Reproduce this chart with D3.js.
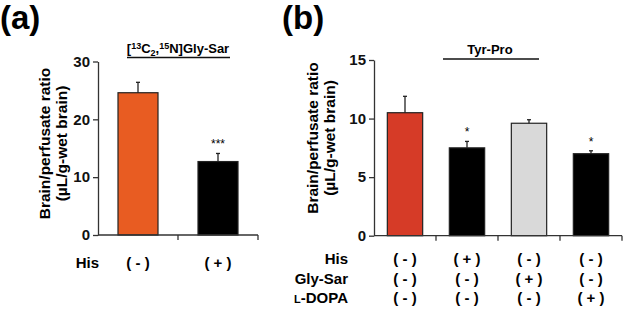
<!DOCTYPE html>
<html>
<head>
<meta charset="utf-8">
<script src="https://cdn.jsdelivr.net/npm/d3@7"></script>
<style>
  body { margin: 0; background: #fff; }
  svg { font-family: "Liberation Sans", Arial, sans-serif; font-weight: bold; }
  .axis path, .axis line { stroke: #333; stroke-width: 1.3; }
  .axis text { font-size: 15px; font-weight: bold; fill: #111; }
</style>
</head>
<body>
<svg id="chart" width="623" height="312"></svg>
<script>
// panel (a)
const groupsA = ['(-) His', '(+) His'];
const valuesA = [24.6, 12.7];
const errorsA = [1.8, 1.4];
const colorsA = ['#E85C22', '#000000'];
const sigA = ['', '***'];
const hisA = ['( - )', '( + )'];

// panel (b)
const groupsB = ['ctrl', 'His', 'Gly-Sar', 'L-DOPA'];
const valuesB = [10.5, 7.5, 9.6, 7.0];
const errorsB = [1.4, 0.55, 0.3, 0.25];
const colorsB = ['#D63B27', '#000000', '#D9D9D9', '#000000'];
const sigB = ['', '*', '', '*'];
const rowNamesB = ['His', 'Gly-Sar', 'DOPA'];
const rowValuesB = [
    ['( - )', '( + )', '( - )', '( - )'],
    ['( - )', '( - )', '( + )', '( - )'],
    ['( - )', '( - )', '( - )', '( + )']
];

const svg = d3.select('#chart');

function drawPanel(cfg) {
    const g = svg.append('g').attr('transform', `translate(${cfg.left},${cfg.top})`);

    const x = d3.scaleBand().domain(cfg.groups).range([0, cfg.width]).paddingInner(cfg.pad).paddingOuter(cfg.pad / 2);
    const y = d3.scaleLinear().domain([0, cfg.max]).range([cfg.height, 0]);

    // bars
    g.selectAll('rect.bar')
        .data(cfg.values)
        .join('rect')
        .attr('class', 'bar')
        .attr('x', (d, i) => x(cfg.groups[i]))
        .attr('y', d => y(d))
        .attr('width', x.bandwidth())
        .attr('height', d => cfg.height - y(d))
        .attr('fill', (d, i) => cfg.colors[i])
        .attr('stroke', '#222')
        .attr('stroke-width', 1.2);

    // error bars (upper only)
    cfg.values.forEach((v, i) => {
        const cx = x(cfg.groups[i]) + x.bandwidth() / 2;
        g.append('line')
            .attr('x1', cx).attr('x2', cx)
            .attr('y1', y(v)).attr('y2', y(v + cfg.errors[i]))
            .attr('stroke', '#222').attr('stroke-width', 1.3);
        g.append('line')
            .attr('x1', cx - 2).attr('x2', cx + 2)
            .attr('y1', y(v + cfg.errors[i])).attr('y2', y(v + cfg.errors[i]))
            .attr('stroke', '#222').attr('stroke-width', 1.3);
        if (cfg.sig[i]) {
            g.append('text')
                .attr('x', cx).attr('y', y(v + cfg.errors[i]) - 5)
                .attr('text-anchor', 'middle')
                .style('font-size', '12px').style('font-weight', 'normal')
                .text(cfg.sig[i]);
        }
    });

    // axes
    const yAxis = d3.axisLeft(y).tickValues(cfg.ticks).tickSize(5).tickPadding(3).tickSizeOuter(0);
    g.append('g').attr('class', 'axis').call(yAxis);

    const xBounds = d3.range(cfg.groups.length + 1).map(i => i * cfg.width / cfg.groups.length);
    const xg = g.append('g').attr('class', 'axis').attr('transform', `translate(0,${cfg.height})`);
    xg.append('line').attr('x1', 0).attr('x2', cfg.width).attr('y1', 0).attr('y2', 0);
    xg.selectAll('line.tk')
        .data(xBounds.slice(1))
        .join('line')
        .attr('class', 'tk')
        .attr('x1', d => d).attr('x2', d => d)
        .attr('y1', 0).attr('y2', 5);

    // y label
    const lab = g.append('text')
        .attr('transform', `translate(${cfg.labelX},${cfg.labelY}) rotate(-90)`)
        .attr('text-anchor', 'middle')
        .style('font-size', '15.5px');
    lab.append('tspan').attr('x', 0).attr('dy', 0).text('Brain/perfusate ratio');
    lab.append('tspan').attr('x', 0).attr('dy', 17).text('(µL/g-wet brain)');

    return {g, x, y};
}

// ---- panel (a)
const pa = drawPanel({
    left: 98, top: 61.5, width: 160, height: 173.5,
    groups: groupsA, values: valuesA, errors: errorsA, colors: colorsA, sig: sigA,
    max: 30, ticks: [0, 10, 20, 30], pad: 0.5, labelX: -48, labelY: 82
});
svg.append('text').attr('x', 0).attr('y', 29)
    .style('font-size', '33px').text('(a)');
const titleA = pa.g.append('text').attr('x', 80).attr('y', -9)
    .attr('text-anchor', 'middle').style('font-size', '13px');
titleA.append('tspan').text('[');
titleA.append('tspan').attr('dy', -4).style('font-size', '9px').text('13');
titleA.append('tspan').attr('dy', 4).text('C');
titleA.append('tspan').attr('dy', 3).style('font-size', '9px').text('2');
titleA.append('tspan').attr('dy', -3).text(',');
titleA.append('tspan').attr('dy', -4).style('font-size', '9px').text('15');
titleA.append('tspan').attr('dy', 4).text('N]Gly-Sar');
pa.g.append('line').attr('x1', 29).attr('x2', 132).attr('y1', -4).attr('y2', -4)
    .attr('stroke', '#111').attr('stroke-width', 1.3);
pa.g.append('text').attr('x', 1).attr('y', 206).attr('text-anchor', 'end')
    .style('font-size', '15px').text('His');
hisA.forEach((t, i) => {
    pa.g.append('text')
        .attr('x', pa.x(groupsA[i]) + pa.x.bandwidth() / 2).attr('y', 206)
        .attr('text-anchor', 'middle').style('font-size', '15px')
        .text(t);
});

// ---- panel (b)
const pb = drawPanel({
    left: 374, top: 60, width: 248, height: 175.7,
    groups: groupsB, values: valuesB, errors: errorsB, colors: colorsB, sig: sigB,
    max: 15, ticks: [0, 5, 10, 15], pad: 0.43, labelX: -56, labelY: 78
});
svg.append('text').attr('x', 282).attr('y', 29)
    .style('font-size', '33px').text('(b)');
pb.g.append('text').attr('x', 116).attr('y', -6)
    .attr('text-anchor', 'middle').style('font-size', '13px').text('Tyr-Pro');
pb.g.append('line').attr('x1', 69).attr('x2', 165).attr('y1', -1).attr('y2', -1)
    .attr('stroke', '#111').attr('stroke-width', 1.3);

rowNamesB.forEach((name, r) => {
    const ty = 204 + r * 19.5;
    const t = pb.g.append('text').attr('x', -26).attr('y', ty).attr('text-anchor', 'end')
        .style('font-size', '15px');
    if (name === 'DOPA') {
        t.append('tspan').style('font-size', '11px').text('L');
        t.append('tspan').text('-DOPA');
    } else {
        t.text(name);
    }
    rowValuesB[r].forEach((v, i) => {
        pb.g.append('text')
            .attr('x', pb.x(groupsB[i]) + pb.x.bandwidth() / 2).attr('y', ty)
            .attr('text-anchor', 'middle').style('font-size', '15px')
            .text(v);
    });
});
</script>
</body>
</html>
